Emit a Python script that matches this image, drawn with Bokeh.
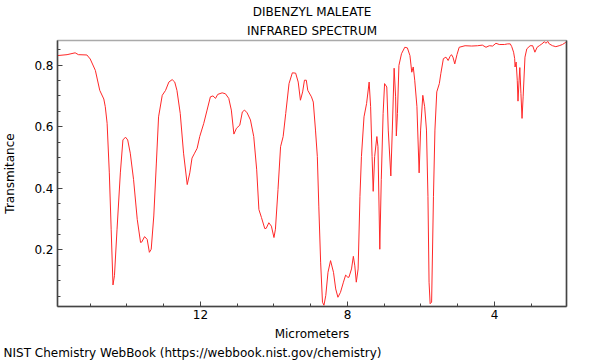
from bokeh.plotting import figure
from bokeh.models import Range1d, FixedTicker, Title, ColumnDataSource, LinearAxis
from bokeh.embed import file_html
from bokeh.resources import INLINE

wavelength_um = [
    15.89, 15.63, 15.41, 15.32, 15.09, 15.00, 14.86, 14.74, 14.63, 14.59, 14.54,
    14.48, 14.43, 14.38, 14.34, 14.27, 14.18, 14.11, 14.04, 13.98, 13.91, 13.82,
    13.72, 13.63, 13.60, 13.52, 13.45, 13.39, 13.34, 13.27, 13.20, 13.14, 13.04,
    12.95, 12.86, 12.77, 12.70, 12.64, 12.55, 12.46, 12.36, 12.29, 12.23, 12.16,
    12.09, 12.02, 11.91, 11.82, 11.73, 11.66, 11.59, 11.53, 11.41, 11.32, 11.23,
    11.16, 11.09, 11.02, 10.93, 10.86, 10.80, 10.73, 10.64, 10.55, 10.47, 10.41,
    10.34, 10.25, 10.21, 10.14, 10.07, 10.00, 9.96, 9.89, 9.82, 9.75, 9.68, 9.59,
    9.50, 9.41, 9.34, 9.28, 9.22, 9.17, 9.12, 9.08, 8.98, 8.93, 8.87, 8.82, 8.78,
    8.73, 8.68, 8.64, 8.59, 8.53, 8.46, 8.38, 8.32, 8.26, 8.19, 8.11, 8.05, 7.99,
    7.96, 7.89, 7.84, 7.80, 7.76, 7.71, 7.66, 7.62, 7.55, 7.48, 7.41, 7.37, 7.33,
    7.30, 7.26, 7.20, 7.17, 7.12, 7.08, 7.03, 6.99, 6.93, 6.89, 6.82, 6.78, 6.73,
    6.69, 6.67, 6.64, 6.60, 6.53, 6.44, 6.37, 6.30, 6.25, 6.21, 6.17, 6.11, 6.08,
    6.05, 6.01, 5.95, 5.90, 5.85, 5.81, 5.78, 5.75, 5.71, 5.66, 5.62, 5.57, 5.50,
    5.46, 5.39, 5.32, 5.26, 5.21, 5.17, 5.13, 5.08, 5.02, 4.96, 4.80, 4.62, 4.46,
    4.33, 4.23, 4.14, 4.05, 3.96, 3.87, 3.73, 3.64, 3.57, 3.53, 3.48, 3.45, 3.44,
    3.41, 3.38, 3.36, 3.33, 3.31, 3.28, 3.25, 3.22, 3.17, 3.12, 3.03, 2.96, 2.90,
    2.84, 2.78, 2.71, 2.64, 2.60, 2.55, 2.51, 2.42, 2.33, 2.24, 2.15, 2.06,
]
transmittance = [
    0.831, 0.834, 0.840, 0.834, 0.833, 0.820, 0.783, 0.718, 0.690, 0.665, 0.611,
    0.450, 0.267, 0.086, 0.116, 0.267, 0.450, 0.557, 0.566, 0.557, 0.514, 0.428,
    0.299, 0.224, 0.225, 0.243, 0.234, 0.192, 0.202, 0.310, 0.482, 0.632, 0.702,
    0.718, 0.745, 0.753, 0.745, 0.718, 0.643, 0.514, 0.412, 0.450, 0.498, 0.514,
    0.530, 0.568, 0.611, 0.654, 0.697, 0.700, 0.692, 0.705, 0.710, 0.707, 0.692,
    0.654, 0.576, 0.595, 0.605, 0.648, 0.654, 0.645, 0.622, 0.568, 0.460, 0.331,
    0.305, 0.269, 0.270, 0.288, 0.277, 0.240, 0.267, 0.396, 0.535, 0.568, 0.643,
    0.740, 0.775, 0.774, 0.745, 0.686, 0.713, 0.751, 0.751, 0.718, 0.697, 0.680,
    0.589, 0.503, 0.342, 0.160, 0.030, 0.020, 0.052, 0.127, 0.165, 0.127, 0.073,
    0.046, 0.062, 0.095, 0.118, 0.111, 0.111, 0.138, 0.179, 0.148, 0.095, 0.138,
    0.374, 0.503, 0.632, 0.675, 0.745, 0.665, 0.503, 0.390, 0.503, 0.568, 0.535,
    0.202, 0.428, 0.643, 0.740, 0.729, 0.589, 0.440, 0.589, 0.790, 0.697, 0.570,
    0.643, 0.799, 0.837, 0.858, 0.856, 0.831, 0.777, 0.794, 0.751, 0.665, 0.557,
    0.450, 0.589, 0.702, 0.665, 0.589, 0.374, 0.095, 0.025, 0.030, 0.374, 0.589,
    0.713, 0.740, 0.772, 0.821, 0.826, 0.815, 0.828, 0.834, 0.826, 0.804, 0.834,
    0.858, 0.863, 0.862, 0.863, 0.865, 0.858, 0.863, 0.862, 0.871, 0.867, 0.867,
    0.869, 0.869, 0.860, 0.842, 0.821, 0.794, 0.810, 0.751, 0.683, 0.751, 0.792,
    0.708, 0.627, 0.697, 0.826, 0.853, 0.863, 0.863, 0.842, 0.858, 0.863, 0.869,
    0.876, 0.871, 0.877, 0.869, 0.863, 0.860, 0.863, 0.867, 0.874,
]

x_major_ticks = [4, 8, 12]
x_minor_ticks = [2, 3, 5, 6, 7, 9, 10, 11, 13, 14, 15]
y_major_ticks = [0.2, 0.4, 0.6, 0.8]
y_minor_ticks = [0.05, 0.1, 0.15, 0.25, 0.3, 0.35, 0.45, 0.5, 0.55, 0.65, 0.7, 0.75, 0.85]

title_line1 = "DIBENZYL MALEATE"
title_line2 = "INFRARED SPECTRUM"
x_label = "Micrometers"
y_label = "Transmitance"
footer = "NIST Chemistry WebBook (https://webbook.nist.gov/chemistry)"

FONT = "DejaVu Sans"

p = figure(width=592, height=360, output_backend="svg", toolbar_location=None,
           x_range=Range1d(15.89, 2.04), y_range=Range1d(0.016, 0.88),
           min_border_left=57, min_border_right=26, min_border_top=40,
           min_border_bottom=52)
p.title = None

src = ColumnDataSource(dict(x=wavelength_um, y=transmittance))
p.line("x", "y", source=src, line_color="#ff2828", line_width=1)

p.grid.visible = False
p.background_fill_color = "white"
p.border_fill_color = "white"
p.outline_line_color = "#aaaaaa"
p.outline_line_width = 1.5

for ax in (p.xaxis[0], p.yaxis[0]):
    ax.axis_line_color = "#444444"
    ax.axis_line_width = 1.5
    ax.major_tick_in = 5
    ax.major_tick_out = 0
    ax.minor_tick_in = 3
    ax.minor_tick_out = 0
    ax.major_tick_line_color = "#444444"
    ax.minor_tick_line_color = "#444444"
    ax.major_label_text_font = FONT
    ax.major_label_text_font_size = "12px"
    ax.major_label_text_color = "black"
    ax.axis_label_text_font = FONT
    ax.axis_label_text_font_size = "12px"
    ax.axis_label_text_font_style = "normal"
    ax.axis_label_text_color = "black"

p.xaxis[0].ticker = FixedTicker(ticks=x_major_ticks, minor_ticks=x_minor_ticks)
p.yaxis[0].ticker = FixedTicker(ticks=y_major_ticks, minor_ticks=y_minor_ticks)
p.xaxis[0].axis_label = x_label
p.yaxis[0].axis_label = y_label
p.xaxis[0].major_label_standoff = 3
p.xaxis[0].axis_label_standoff = 5
p.yaxis[0].major_label_standoff = 4
p.yaxis[0].axis_label_standoff = 14

right = LinearAxis(major_label_text_font_size="0px", major_tick_in=0, major_tick_out=0,
                   minor_tick_in=0, minor_tick_out=0, axis_line_color="#444444",
                   axis_line_width=1.5)
right.ticker = FixedTicker(ticks=[])
p.add_layout(right, "right")

t2 = Title(text=title_line2, align="center", text_font=FONT, text_font_size="12px",
           text_font_style="normal", text_color="black", standoff=5)
t1 = Title(text=title_line1, align="center", text_font=FONT, text_font_size="12px",
           text_font_style="normal", text_color="black", standoff=2)
p.add_layout(t2, "above")
p.add_layout(t1, "above")

foot = Title(text=footer, align="left", text_font=FONT, text_font_size="12px",
             text_font_style="normal", text_color="black", offset=-54, standoff=1)
p.add_layout(foot, "below")

open("out.html", "w").write(file_html(p, INLINE))
